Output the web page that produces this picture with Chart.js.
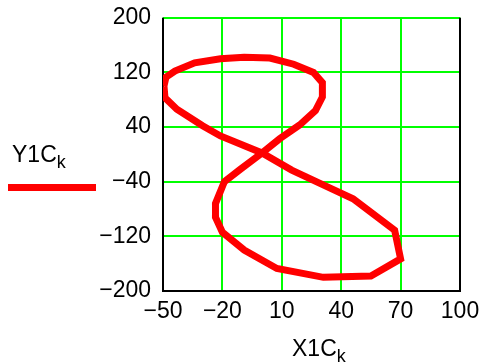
<!DOCTYPE html>
<html>
<head>
<meta charset="utf-8">
<script src="https://cdn.jsdelivr.net/npm/chart.js@4"></script>
<style>
  body { margin: 0; background: #fff; }
  #wrap { width: 487px; height: 364px; }
</style>
</head>
<body>
<div id="wrap"><canvas id="curveChart" width="487" height="364"></canvas></div>
<script>
// Curva paramétrica (X1C_k, Y1C_k)
const x1c = [-49.5, -48.5, -44, -34, -21, -9, 4, 16, 26, 30.5, 30.5, 27, 19, 9, 0, -11, -19, -23.5, -23.5, -20, -9, 7.5, 31, 55, 70, 67, 46, 32, 15, 0, -21, -30, -43, -49, -49.5];
const y1c = [100, 113, 122, 134, 140, 142, 141, 132, 120, 105, 84, 64, 43, 23, 2, -22, -40, -72, -92, -114, -140, -167, -180, -178, -153, -111, -65, -46, -23, 2, 27, 42, 66, 83, 100];

const xTicks = [-50, -20, 10, 40, 70, 100];
const yTicks = [-200, -120, -40, 40, 120, 200];

const fontFam = "'Liberation Sans', Arial, sans-serif";

function fmt(v) {
  return v < 0 ? "\u2212" + Math.abs(v) : String(v);
}

// Texto con subíndice dibujado en el canvas
function drawSubText(c, main, sub, x, y) {
  c.font = "23px " + fontFam;
  c.fillStyle = "#000";
  c.textBaseline = "alphabetic";
  c.textAlign = "left";
  c.fillText(main, x, y);
  const w = c.measureText(main).width;
  c.font = "18px " + fontFam;
  c.fillText(sub, x + w, y + 6);
}

const framePlugin = {
  id: "frame",
  beforeDatasetsDraw(chart) {
    const a = chart.chartArea;
    const c = chart.ctx;
    c.save();
    c.strokeStyle = "#000";
    c.lineWidth = 2;
    c.beginPath();
    c.moveTo(a.left, a.top);
    c.lineTo(a.left, a.bottom);
    c.lineTo(a.right, a.bottom);
    c.lineTo(a.right, a.top);
    c.stroke();
    c.restore();
  },
  afterDraw(chart) {
    const c = chart.ctx;
    c.save();
    drawSubText(c, "Y1C", "k", 12, 162);
    drawSubText(c, "X1C", "k", 292, 356);
    c.fillStyle = "#ff0000";
    c.fillRect(8, 184, 88, 7);
    c.restore();
  }
};

const chart = new Chart(document.getElementById("curveChart"), {
  type: "scatter",
  data: {
    datasets: [
      {
        label: "Y1C_k",
        data: x1c.map((x, i) => ({ x: x, y: y1c[i] })),
        showLine: true,
        borderColor: "#ff0000",
        borderWidth: 7,
        pointRadius: 0,
        tension: 0,
        fill: false,
      },
    ],
  },
  options: {
    responsive: false,
    animation: false,
    layout: { padding: { left: 0, right: 27, top: 17, bottom: 0 } },
    plugins: { legend: { display: false }, tooltip: { enabled: false } },
    scales: {
      x: {
        type: "linear",
        min: -50,
        max: 100,
        afterBuildTicks: (s) => { s.ticks = xTicks.map((v) => ({ value: v })); },
        afterFit: (s) => { s.height = 73; },
        grid: { color: "#00ff00", lineWidth: 2, drawTicks: false },
        border: { display: false },
        ticks: {
          padding: 7,
          color: "#000",
          font: { family: fontFam, size: 23 },
          maxRotation: 0,
          callback: (v) => fmt(v),
        },
      },
      y: {
        type: "linear",
        min: -200,
        max: 200,
        afterBuildTicks: (s) => { s.ticks = yTicks.map((v) => ({ value: v })); },
        afterFit: (s) => { s.width = 163; },
        grid: { color: "#00ff00", lineWidth: 2, drawTicks: false },
        border: { display: false },
        ticks: {
          padding: 12,
          color: "#000",
          font: { family: fontFam, size: 23, lineHeight: 0.5 },
          callback: (v) => fmt(v),
        },
      },
    },
  },
  plugins: [framePlugin],
});
</script>
</body>
</html>
